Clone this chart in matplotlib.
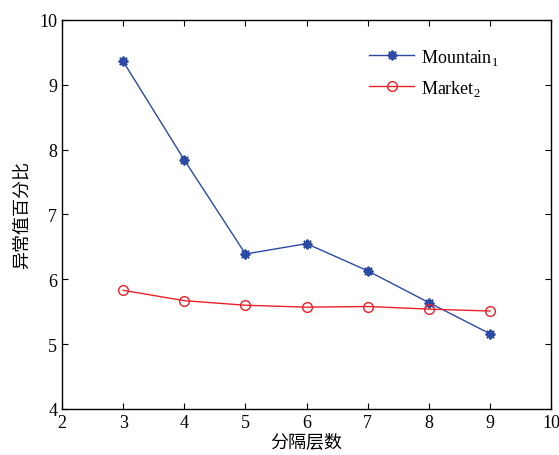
# Line chart: outlier percentage vs. number of separating layers

import matplotlib.pyplot as plt

layers = [3, 4, 5, 6, 7, 8, 9]
mountain = [9.36, 7.84, 6.39, 6.55, 6.13, 5.64, 5.16]
market = [5.83, 5.67, 5.60, 5.57, 5.58, 5.54, 5.51]

plt.rcParams["font.family"] = ["Liberation Serif", "Noto Sans CJK SC"]
plt.rcParams["mathtext.fontset"] = "custom"
plt.rcParams["mathtext.rm"] = "Liberation Serif"

fig = plt.figure(figsize=(5.59, 4.56), dpi=100)
ax = fig.add_axes([0.111, 0.101, 0.875, 0.853])

ax.plot(layers, mountain, color="#2b4aa6", lw=1.0, marker=(8, 2, 0), ms=7,
        mew=1.4, label=r"Mountain$_\mathrm{1}$")
ax.plot(layers, market, color="#e8212b", lw=1.0, marker="o", ms=7,
        mfc="none", mew=1.0, label=r"Market$_\mathrm{2}$")

ax.set_xlim(2, 10)
ax.set_ylim(4, 10)
ax.set_xticks(range(2, 11))
ax.set_yticks(range(4, 11))
ax.tick_params(direction="in", top=True, right=True, labelsize=13, length=4)
for s in ax.spines.values():
    s.set_linewidth(1.0)

ax.set_xlabel("分隔层数", fontsize=13, labelpad=2)
ax.set_ylabel("异常值百分比", fontsize=13, labelpad=6)

ax.legend(loc="upper right", bbox_to_anchor=(0.927, 0.973), frameon=False,
          fontsize=13, handlelength=2.5, handletextpad=0.4, labelspacing=0.6)

fig.savefig("out.png", dpi=100)
